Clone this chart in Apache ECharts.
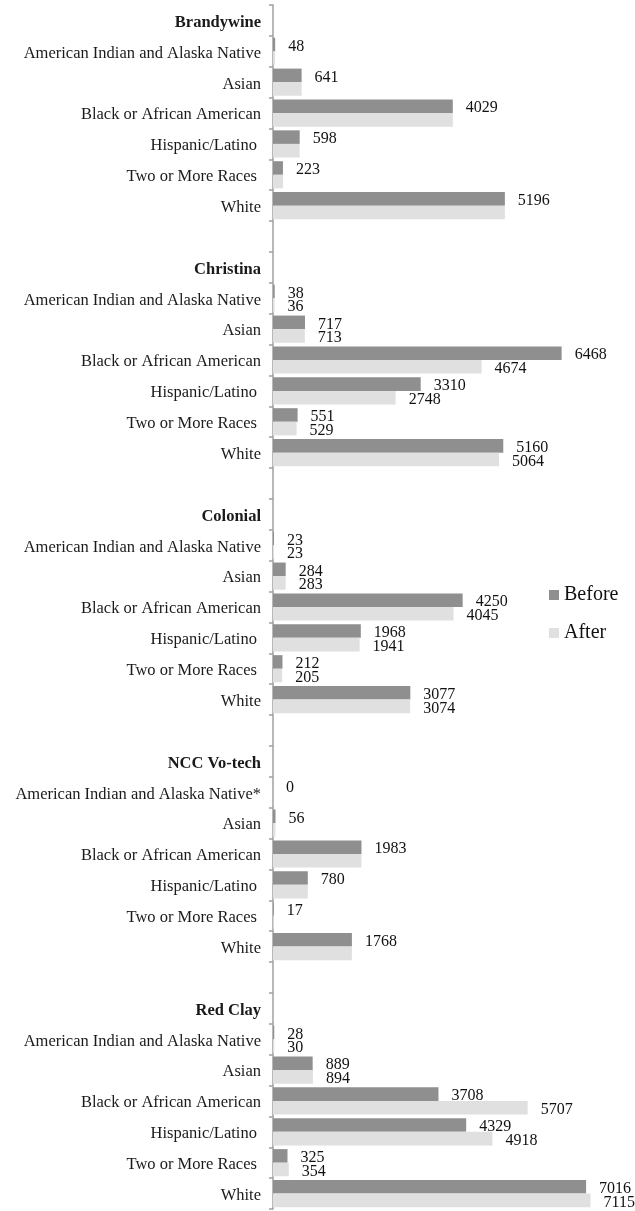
<!DOCTYPE html>
<html>
<head>
<meta charset="utf-8">
<style>html,body{margin:0;padding:0;background:#fff;}#c{width:635px;height:1211px;}</style>
<script src="https://cdn.jsdelivr.net/npm/echarts@6/dist/echarts.min.js"></script>
</head>
<body>
<div id="c"></div>
<script>
const districts = ['Brandywine', 'Christina', 'Colonial', 'NCC Vo-tech', 'Red Clay'];
const races = ['American Indian and Alaska Native', 'Asian', 'Black or African American', 'Hispanic/Latino ', 'Two or More Races ', 'White'];
const votechAianLabel = 'American Indian and Alaska Native*';
const beforeBrandywine = [48, 641, 4029, 598, 223, 5196];
const afterBrandywine = [48, 641, 4029, 598, 223, 5196];
const beforeChristina = [38, 717, 6468, 3310, 551, 5160];
const afterChristina = [36, 713, 4674, 2748, 529, 5064];
const beforeColonial = [23, 284, 4250, 1968, 212, 3077];
const afterColonial = [23, 283, 4045, 1941, 205, 3074];
const beforeVotech = [0, 56, 1983, 780, 17, 1768];
const afterVotech = [0, 56, 1983, 780, 17, 1768];
const beforeRedClay = [28, 889, 3708, 4329, 325, 7016];
const afterRedClay = [30, 894, 5707, 4918, 354, 7115];
const showAfterLabels = [false, true, true, false, true];

const beforeAll = [beforeBrandywine, beforeChristina, beforeColonial, beforeVotech, beforeRedClay];
const afterAll = [afterBrandywine, afterChristina, afterColonial, afterVotech, afterRedClay];

const categories = [];
const isHeader = [];
const beforeData = [];
const afterData = [];
districts.forEach((d, di) => {
  categories.push(d); isHeader.push(true); beforeData.push('-'); afterData.push('-');
  races.forEach((r, ri) => {
    let name = r;
    if (d === 'NCC Vo-tech' && ri === 0) name = votechAianLabel;
    categories.push(name); isHeader.push(false);
    beforeData.push(beforeAll[di][ri]);
    afterData.push(showAfterLabels[di] ? afterAll[di][ri] : {value: afterAll[di][ri], label: {show: false}});
  });
  if (di < districts.length - 1) {
    categories.push(' '.repeat(di + 1)); isHeader.push(false); beforeData.push('-'); afterData.push('-');
  }
});

const FONT = '"Liberation Serif", "DejaVu Serif", serif';
const labelStyle = {show: true, position: 'right', distance: 13, offset: [0, 2], fontFamily: FONT, fontSize: 16, color: '#111'};

const chart = echarts.init(document.getElementById('c'));
chart.setOption({
  animation: false,
  grid: {left: 273, top: 5, height: 1204, width: 357},
  legend: {
    data: ['Before', 'After'], orient: 'vertical', left: 544, top: 580,
    icon: 'rect', itemWidth: 10, itemHeight: 10, itemGap: 18,
    textStyle: {fontFamily: FONT, fontSize: 20, color: '#111'}
  },
  xAxis: {
    type: 'value', min: 0, max: 8000,
    axisLine: {show: false}, axisTick: {show: false}, axisLabel: {show: false}, splitLine: {show: false}
  },
  yAxis: {
    type: 'category', inverse: true, data: categories,
    axisLine: {show: true, lineStyle: {color: '#a0a0a0', width: 1.5}},
    axisTick: {show: true, length: 4, lineStyle: {color: '#a0a0a0', width: 1.5}},
    axisLabel: {
      interval: 0, margin: 12, fontFamily: FONT, fontSize: 16.5, color: '#1a1a1a',
      padding: [4, 0, 0, 0],
      formatter: (v, i) => isHeader[i] ? '{h|' + v + '}' : v,
      rich: {h: {fontFamily: FONT, fontSize: 16.5, fontWeight: 'bold', color: '#1a1a1a'}}
    }
  },
  series: [
    {name: 'Before', type: 'bar', data: beforeData, barGap: '0%', barCategoryGap: '12%',
     itemStyle: {color: '#8f8f8f'}, label: labelStyle},
    {name: 'After', type: 'bar', data: afterData, barGap: '0%', barCategoryGap: '12%',
     itemStyle: {color: '#e0e0e0'}, label: labelStyle}
  ]
});
</script>
</body>
</html>
